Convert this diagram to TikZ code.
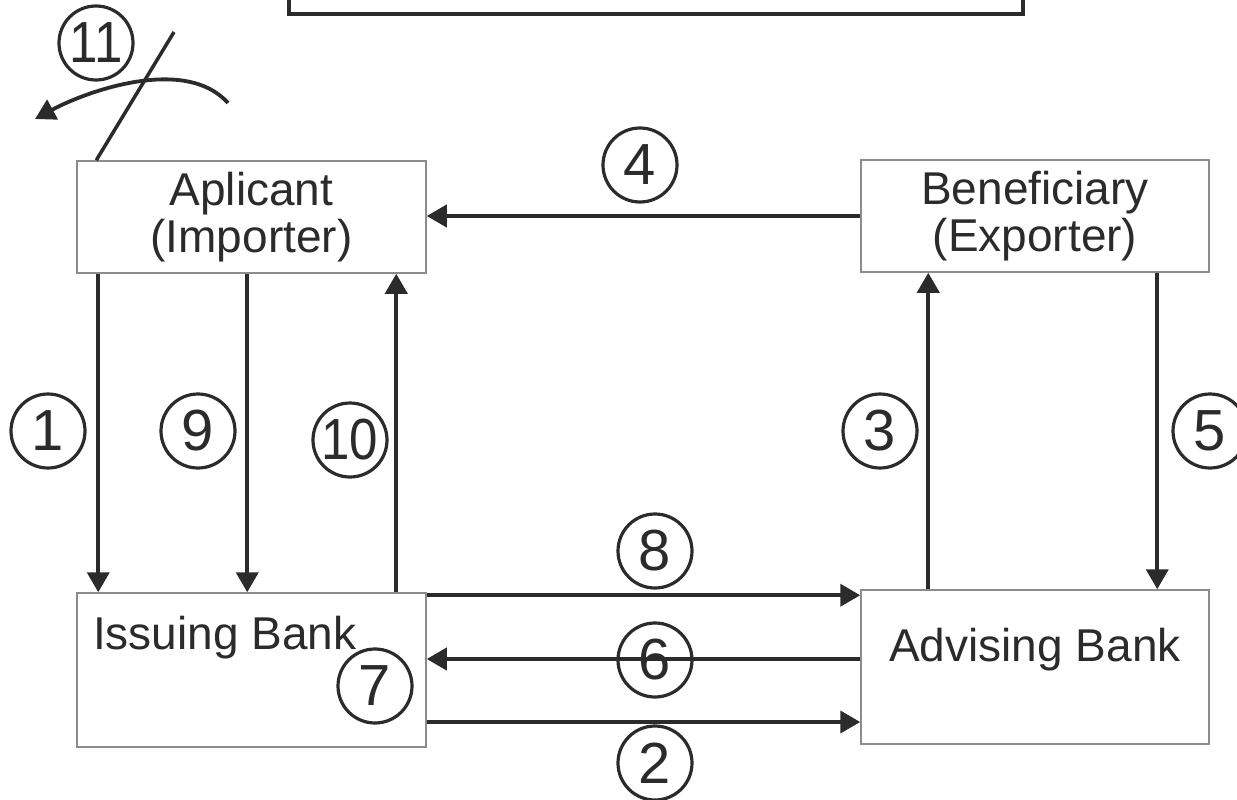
\documentclass[tikz,border=0pt]{standalone}
\usepackage{fontspec}
\setmainfont{Liberation Sans}
\usetikzlibrary{arrows.meta}
\definecolor{ink}{HTML}{2B2B2B}
\definecolor{edge}{HTML}{8C8C8C}
\begin{document}
\begin{tikzpicture}[x=1pt,y=-1pt,
 box/.style={draw=edge,line width=1.5pt,fill=white,minimum width=349pt,inner sep=0pt,align=center,font=\fontsize{46}{47}\selectfont,text=ink},
 lbl/.style={font=\fontsize{46}{47}\selectfont,text=ink,inner sep=0pt},
 num/.style={circle,draw=ink,line width=3.2pt,minimum size=74pt,inner sep=0pt,font=\fontsize{58}{58}\selectfont,text=ink},
 flow/.style={draw=ink,line width=4pt,-{Triangle[length=20pt,width=22pt]}},
 plain/.style={draw=ink,line width=3.5pt},
]
\useasboundingbox (0,0) rectangle (1237,800);
\clip (0,0) rectangle (1237,800);
% top box (cut off)
\draw[draw=ink,line width=4pt] (289,-30) rectangle (1023,14);
% boxes
\node[box,minimum height=112pt] (app) at (251.5,217) {Aplicant\\(Importer)};
\node[box,minimum width=348pt,minimum height=112pt] (ben) at (1035,216) {Beneficiary\\(Exporter)};
\node[box,minimum height=154pt] (iss) at (251.5,670) {};
\node[box,minimum width=348pt,minimum height=154pt] (adv) at (1035,667) {};
\node[lbl,anchor=base west] (isst) at (93,649) {Issuing Bank};
\node[lbl,anchor=base] (advt) at (1035,661) {Advising Bank};
% vertical arrows
\draw[flow] ([xshift=22pt]app.south west) -- ([xshift=22pt]iss.north west);
\draw[flow] ([xshift=171pt]app.south west) -- ([xshift=171pt]iss.north west);
\draw[flow] ([xshift=320pt]iss.north west) -- ([xshift=320pt]app.south west);
\draw[flow] ([xshift=68pt]adv.north west) -- ([xshift=68pt]ben.south west);
\draw[flow] ([xshift=297pt]ben.south west) -- ([xshift=297pt]adv.north west);
% horizontal arrows
\draw[flow] (ben.west) -- (ben.west -| app.east);
\draw[flow] ([yshift=-3pt]iss.north east) -- ([yshift=-3pt]iss.north east -| adv.west);
\draw[flow] ([yshift=8pt]adv.west) -- ([yshift=8pt]adv.west -| iss.east);
\draw[flow] ([yshift=-52pt]iss.east) -- ([yshift=-52pt]iss.east -| adv.west);
% step 11: cancelled
\coordinate (a11s) at (228,103);
\coordinate (a11e) at (35,119);
\draw[draw=ink,line width=3.8pt,-{Triangle[length=20pt,width=22pt]}] (a11s) .. controls (185,55) and (85,92) .. (a11e);
\coordinate (slashtop) at (174,32);
\draw[plain] (slashtop) -- ([xshift=20pt]app.north west);
% numbered circles
\node[num] (n1) at (48,431) {1};
\node[num] (n9) at (198,431) {9};
\node[num] (n10) at (350,440) {\scalebox{0.88}[1]{10}};
\node[num] (n3) at (880,431) {3};
\node[num] (n5) at (1210,431) {5};
\node[num] (n4) at (640,165) {4};
\node[num] (n8) at (655,551) {8};
\node[num] (n6) at (655,660) {6};
\node[num] (n2) at (655,763) {2};
\node[num] (n7) at (375,686) {7};
\node[num] (n11) at (96,43) {\scalebox{0.88}[1]{11}};
\end{tikzpicture}
\end{document}
